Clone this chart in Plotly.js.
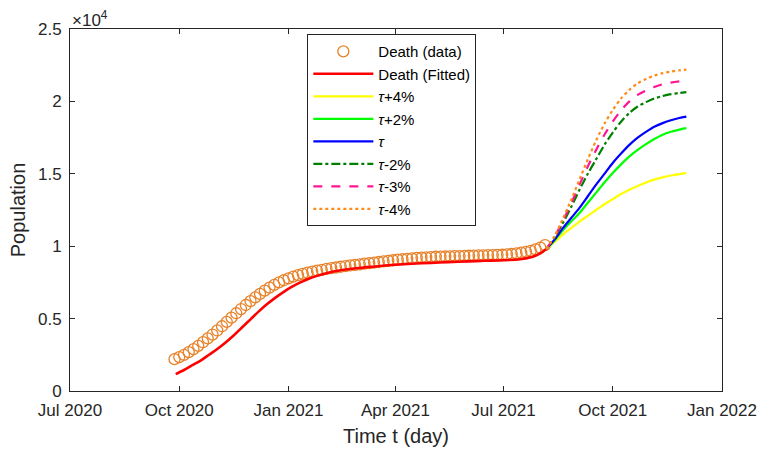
<!DOCTYPE html>
<html>
<head>
<meta charset="utf-8">
<script src="https://cdn.plot.ly/plotly-3.0.1.min.js"></script>
<style>
  html, body { margin: 0; padding: 0; background: #fff; }
  #chart { width: 767px; height: 454px; }
</style>
</head>
<body>
<div id="chart"></div>
<script>
// Reported deaths, one sample every 4 days starting 2020-09-27
const deathStart = '2020-09-27';
const deathStepDays = 4;
const deathData = [
  2200, 2340, 2500, 2680, 2890, 3120, 3370, 3630, 3900, 4180,
  4470, 4770, 5070, 5370, 5660, 5940, 6210, 6470, 6710, 6930,
  7140, 7330, 7500, 7650, 7780, 7900, 8000, 8090, 8170, 8240,
  8310, 8370, 8430, 8480, 8530, 8580, 8630, 8670, 8710, 8750,
  8790, 8830, 8870, 8910, 8950, 8990, 9030, 9070, 9100, 9130,
  9160, 9190, 9210, 9230, 9250, 9270, 9280, 9290, 9300, 9310,
  9320, 9330, 9340, 9350, 9360, 9370, 9380, 9390, 9400, 9410,
  9430, 9460, 9500, 9550, 9610, 9680, 9780, 9900, 10080
];

// Fitted model over the observation window
const fitDates = [
  '2020-09-28', '2020-10-05', '2020-10-12', '2020-10-19', '2020-10-26',
  '2020-11-02', '2020-11-09', '2020-11-16', '2020-11-23', '2020-11-30',
  '2020-12-07', '2020-12-14', '2020-12-21', '2020-12-28', '2021-01-04',
  '2021-01-11', '2021-01-18', '2021-01-25', '2021-02-01', '2021-02-15',
  '2021-03-01', '2021-03-15', '2021-04-01', '2021-04-15', '2021-05-01',
  '2021-05-15', '2021-06-01', '2021-06-15', '2021-07-01', '2021-07-15',
  '2021-07-25', '2021-08-01', '2021-08-06'
];
const fitValues = [
  1170, 1450, 1780, 2100, 2500,
  2900, 3350, 3850, 4400, 4950,
  5500, 6000, 6450, 6850, 7200,
  7500, 7750, 7950, 8120, 8350,
  8500, 8600, 8720, 8790, 8850,
  8900, 8950, 8990, 9030, 9100,
  9250, 9500, 9800
];

// Projections for perturbed transmission parameter tau
const projDates = [
  '2021-08-06', '2021-08-13', '2021-08-20', '2021-08-27', '2021-09-03',
  '2021-09-10', '2021-09-17', '2021-09-24', '2021-10-01', '2021-10-08',
  '2021-10-15', '2021-10-22', '2021-10-29', '2021-11-05', '2021-11-12',
  '2021-11-19', '2021-11-26', '2021-12-02'
];
const tauPlus4 = [
  9800, 10300, 10800, 11250, 11700, 12100, 12500, 12900, 13250, 13600,
  13900, 14150, 14400, 14600, 14750, 14880, 14980, 15050
];
const tauPlus2 = [
  9800, 10400, 11100, 11700, 12300, 13000, 13700, 14400, 15050, 15650,
  16200, 16650, 17050, 17400, 17700, 17900, 18050, 18150
];
const tauBase = [
  9800, 10450, 11250, 11950, 12650, 13450, 14250, 15000, 15750, 16400,
  17000, 17500, 17900, 18250, 18500, 18700, 18850, 18950
];
const tauMinus2 = [
  9800, 10600, 11600, 12700, 13900, 15000, 16000, 17000, 17850, 18600,
  19200, 19650, 19950, 20200, 20370, 20500, 20580, 20640
];
const tauMinus3 = [
  9800, 10650, 11750, 12950, 14250, 15500, 16650, 17700, 18600, 19380,
  20000, 20450, 20750, 21000, 21180, 21300, 21380, 21430
];
const tauMinus4 = [
  9800, 10700, 11900, 13200, 14600, 16000, 17300, 18450, 19400, 20200,
  20800, 21250, 21550, 21780, 21950, 22060, 22140, 22190
];

const xTickVals = ['2020-07-01', '2020-10-01', '2021-01-01', '2021-04-01', '2021-07-01', '2021-10-01', '2022-01-01'];
const xTickText = ['Jul 2020', 'Oct 2020', 'Jan 2021', 'Apr 2021', 'Jul 2021', 'Oct 2021', 'Jan 2022'];
const yTickVals = [0, 5000, 10000, 15000, 20000, 25000];
const yTickText = ['0', '0.5', '1', '1.5', '2', '2.5'];

// sampling dates for the observed series
function addDays(iso, n) {
  const d = new Date(iso + 'T00:00:00Z');
  d.setUTCDate(d.getUTCDate() + n);
  return d.toISOString().slice(0, 10);
}
const deathDates = deathData.map((_, i) => addDays(deathStart, i * deathStepDays));

const FONT = '"Liberation Sans", Arial, Helvetica, sans-serif';
const INK = '#262626';

function projTrace(name, y, color, dash) {
  return {
    x: projDates, y: y, name: name, type: 'scatter', mode: 'lines',
    line: { color: color, width: 2.2, dash: dash, shape: 'spline', smoothing: 0.8 }
  };
}

const traces = [
  {
    x: deathDates, y: deathData, name: 'Death (data)', type: 'scatter', mode: 'markers',
    marker: { symbol: 'circle-open', size: 11, color: '#E8822A', line: { width: 1.3, color: '#E8822A' } }
  },
  {
    x: fitDates, y: fitValues, name: 'Death (Fitted)', type: 'scatter', mode: 'lines',
    line: { color: '#FF0000', width: 2.6, shape: 'spline', smoothing: 0.8 }
  },
  projTrace('<i>τ</i>+4%', tauPlus4, '#FFFF00', 'solid'),
  projTrace('<i>τ</i>+2%', tauPlus2, '#00FF00', 'solid'),
  projTrace('<i>τ</i>', tauBase, '#0000FF', 'solid'),
  projTrace('<i>τ</i>-2%', tauMinus2, '#008000', 'dashdot'),
  projTrace('<i>τ</i>-3%', tauMinus3, '#FF1493', 'dash'),
  projTrace('<i>τ</i>-4%', tauMinus4, '#FF8C1A', 'dot')
];

const layout = {
  width: 767, height: 454,
  margin: { l: 70, r: 45, t: 29, b: 63 },
  paper_bgcolor: '#fff', plot_bgcolor: '#fff',
  font: { family: FONT, size: 16, color: INK },
  showlegend: true,
  legend: {
    x: 0.364, y: 0.986, xanchor: 'left', yanchor: 'top',
    bgcolor: '#fff', bordercolor: INK, borderwidth: 1,
    font: { family: FONT, size: 15, color: '#000' },
    itemwidth: 60
  },
  xaxis: {
    type: 'date',
    range: ['2020-07-01', '2022-01-01'],
    tickmode: 'array', tickvals: xTickVals, ticktext: xTickText,
    ticks: 'inside', ticklen: 5, tickcolor: INK, tickwidth: 1,
    showline: true, linecolor: INK, linewidth: 1, mirror: 'allticks',
    showgrid: false, zeroline: false,
    ticklabelstandoff: 4,
    tickfont: { family: FONT, size: 17, color: INK },
    title: { text: 'Time t (day)', font: { family: FONT, size: 20, color: INK }, standoff: 9 }
  },
  yaxis: {
    range: [0, 25000],
    tickmode: 'array', tickvals: yTickVals, ticktext: yTickText,
    ticks: 'inside', ticklen: 5, tickcolor: INK, tickwidth: 1,
    showline: true, linecolor: INK, linewidth: 1, mirror: 'allticks',
    showgrid: false, zeroline: false,
    ticklabelstandoff: 4,
    tickfont: { family: FONT, size: 17, color: INK },
    title: { text: 'Population', font: { family: FONT, size: 20, color: INK }, standoff: 6 }
  },
  annotations: [{
    xref: 'paper', yref: 'paper', x: 0, y: 1, xanchor: 'left', yanchor: 'bottom',
    text: '×10<sup>4</sup>', showarrow: false,
    font: { family: FONT, size: 17, color: INK }, yshift: -3
  }]
};

Plotly.newPlot('chart', traces, layout, { displayModeBar: false, staticPlot: true });
</script>
</body>
</html>
